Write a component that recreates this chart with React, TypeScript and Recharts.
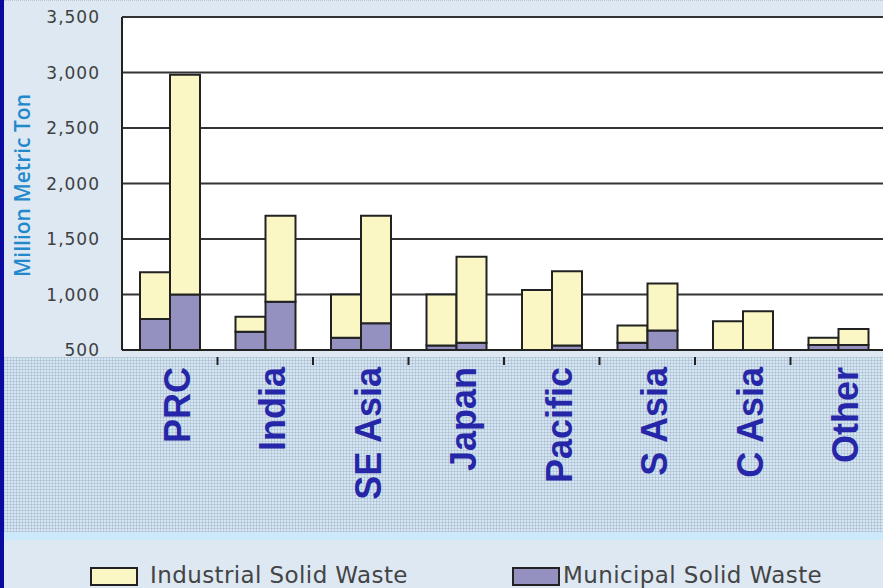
import { BarChart, Bar, XAxis, YAxis, CartesianGrid } from 'recharts'

const YELLOW = '#faf7c4'
const PURPLE = '#9490c0'
const EDGE = '#222'
const BG = '#dde8f3'
const LABEL_BLUE = '#2626a8'

// regions along the x axis
const regions = ['PRC', 'India', 'SE Asia', 'Japan', 'Pacific', 'S Asia', 'C Asia', 'Other']

// left bar of each pair
const municipalA = [780, 665, 610, 540, 450, 565, 480, 545]
const industrialA = [420, 135, 390, 460, 590, 155, 280, 65]

// right bar of each pair
const municipalB = [1000, 935, 740, 565, 540, 675, 490, 545]
const industrialB = [1980, 775, 970, 775, 670, 425, 360, 145]

const yTicks = [500, 1000, 1500, 2000, 2500, 3000, 3500]

const data = regions.map((region, i) => ({
  region,
  munA: municipalA[i],
  indA: industrialA[i],
  munB: municipalB[i],
  indB: industrialB[i],
}))

const BAND = 95.5

function RegionTick(props: any) {
  const { x, y, payload } = props
  return (
    <g>
      <line x1={x + BAND / 2} y1={y - 1} x2={x + BAND / 2} y2={y + 7} stroke={EDGE} strokeWidth={2} />
      <text
        transform={`translate(${x + 20},${y + 9}) rotate(-90)`}
        textAnchor="end"
        fontFamily="'Liberation Sans', Arial, sans-serif"
        fontWeight="bold"
        fontSize={36}
        fill={LABEL_BLUE}
      >
        {payload.value}
      </text>
    </g>
  )
}

function YTitle(props: any) {
  const { viewBox } = props
  const cy = viewBox.y + viewBox.height / 2 + 2
  return (
    <text
      transform={`translate(30,${cy}) rotate(-90)`}
      textAnchor="middle"
      fontFamily="'Open Sans', sans-serif"
      fontWeight={600}
      fontSize={21}
      fill="#2288cc"
    >
      Million Metric Ton
    </text>
  )
}

function LegendItem({ left, color, label, textLeft }: { left: number; color: string; label: string; textLeft: number }) {
  return (
    <>
      <div
        style={{
          position: 'absolute',
          left,
          top: 567,
          width: 44,
          height: 15,
          background: color,
          border: `2px solid ${EDGE}`,
        }}
      />
      <div
        style={{
          position: 'absolute',
          left: textLeft,
          top: 562,
          fontFamily: "'DejaVu Sans', sans-serif",
          fontSize: 23,
          letterSpacing: 0.4,
          color: '#444',
          whiteSpace: 'nowrap',
        }}
      >
        {label}
      </div>
    </>
  )
}

export default function App() {
  return (
    <div
      style={{
        position: 'absolute',
        left: 0,
        top: 0,
        width: 883,
        height: 588,
        overflow: 'hidden',
        background: BG,
      }}
    >
      {/* left frame */}
      <div style={{ position: 'absolute', left: 0, top: 0, width: 4, height: 588, background: '#0a0aa0' }} />
      <div style={{ position: 'absolute', left: 4, top: 0, width: 879, height: 1, borderTop: '1px dotted #b8c4d0' }} />
      {/* hatched band behind the region names */}
      <div
        style={{
          position: 'absolute',
          left: 4,
          top: 357,
          width: 879,
          height: 175,
          backgroundColor: '#d2e6f5',
          backgroundImage:
            'repeating-linear-gradient(0deg, rgba(150,160,175,0.35) 0 1px, transparent 1px 3px), repeating-linear-gradient(90deg, rgba(150,160,175,0.35) 0 1px, transparent 1px 3px)',
        }}
      />
      <div style={{ position: 'absolute', left: 4, top: 532, width: 879, height: 8, background: '#cce9fb' }} />

      <div style={{ position: 'absolute', left: 0, top: 0 }}>
        <BarChart
          width={890}
          height={588}
          data={data}
          margin={{ top: 17, right: 4, left: 0, bottom: 208 }}
          barGap={0}
          barSize={30}
        >
          <CartesianGrid horizontal vertical={false} stroke="#333" strokeWidth={2} fill="#fff" />
          <XAxis
            dataKey="region"
            height={30}
            interval={0}
            tickLine={false}
            axisLine={{ stroke: EDGE, strokeWidth: 2 }}
            tick={<RegionTick />}
          />
          <YAxis
            type="number"
            domain={[500, 3500]}
            ticks={yTicks}
            allowDataOverflow
            width={122}
            tickLine={false}
            tickSize={0}
            tickMargin={22}
            axisLine={{ stroke: EDGE, strokeWidth: 2 }}
            tickFormatter={(v: number) => v.toLocaleString('en-US')}
            tick={{ fontFamily: "'DejaVu Sans', sans-serif", fontSize: 17, fill: '#404040', letterSpacing: 1 }}
            label={<YTitle />}
          />
          <Bar dataKey="munA" stackId="a" fill={PURPLE} stroke={EDGE} strokeWidth={2} isAnimationActive={false} />
          <Bar dataKey="indA" stackId="a" fill={YELLOW} stroke={EDGE} strokeWidth={2} isAnimationActive={false} />
          <Bar dataKey="munB" stackId="b" fill={PURPLE} stroke={EDGE} strokeWidth={2} isAnimationActive={false} />
          <Bar dataKey="indB" stackId="b" fill={YELLOW} stroke={EDGE} strokeWidth={2} isAnimationActive={false} />
        </BarChart>
      </div>

      <LegendItem left={90} color={YELLOW} label="Industrial Solid Waste" textLeft={150} />
      <LegendItem left={512} color={PURPLE} label="Municipal Solid Waste" textLeft={563} />
    </div>
  )
}
